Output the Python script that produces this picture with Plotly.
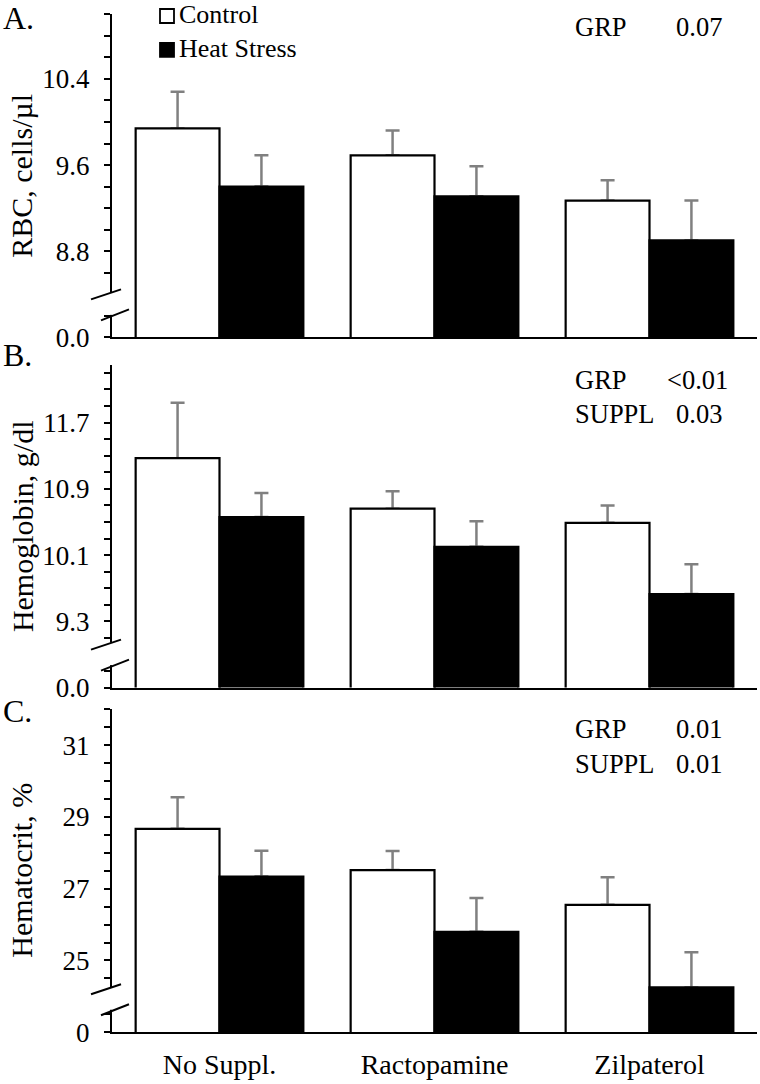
import numpy as np
import plotly.graph_objects as go

# ---------------- data ----------------
categories = ["No Suppl.", "Ractopamine", "Zilpaterol"]
series_names = ["Control", "Heat Stress"]

rbc_control = [9.94, 9.69, 9.27]
rbc_control_se = [0.34, 0.23, 0.19]
rbc_heat = [9.40, 9.31, 8.90]
rbc_heat_se = [0.29, 0.28, 0.37]

hgb_control = [11.27, 10.66, 10.49]
hgb_control_se = [0.67, 0.21, 0.21]
hgb_heat = [10.56, 10.20, 9.63]
hgb_heat_se = [0.29, 0.31, 0.36]

hct_control = [28.67, 27.52, 26.55]
hct_control_se = [0.88, 0.53, 0.77]
hct_heat = [27.34, 25.80, 24.25]
hct_heat_se = [0.72, 0.94, 0.98]

rbc_tick_vals = [8.0, 8.8, 9.6, 10.4]
rbc_tick_labels = ["0.0", "8.8", "9.6", "10.4"]
hgb_tick_vals = [8.5, 9.3, 10.1, 10.9, 11.7]
hgb_tick_labels = ["0.0", "9.3", "10.1", "10.9", "11.7"]
hct_tick_vals = [23, 25, 27, 29, 31]
hct_tick_labels = ["0", "25", "27", "29", "31"]

panel_letters = ["A.", "B.", "C."]
axis_titles = ["RBC, cells/µl", "Hemoglobin, g/dl", "Hematocrit, %"]
stats_a = [("GRP", "0.07")]
stats_b = [("GRP", "<0.01"), ("SUPPL", "0.03")]
stats_c = [("GRP", "0.01"), ("SUPPL", "0.01")]

# ---------------- layout helpers ----------------
W, H = 760, 1084
KY = 1.013          # small vertical correction for the page photograph
FONT = "Liberation Serif"


def px(x):
    return x / W


def py(y):
    return 1 - (y * KY) / H


AX_X = 112
X_RIGHT = 757
ERR_COLOR = "#808080"

panels = [
    dict(ctrl=rbc_control, ctrl_se=rbc_control_se, heat=rbc_heat, heat_se=rbc_heat_se,
         rng=(8.0, 11.0), minor=0.2, tv=rbc_tick_vals, tl=rbc_tick_labels,
         top=14.3, bottom=337.7, stats=stats_a, stat_y=[27],
         letter_y=18),
    dict(ctrl=hgb_control, ctrl_se=hgb_control_se, heat=hgb_heat, heat_se=hgb_heat_se,
         rng=(8.5, 12.4), minor=0.2, tv=hgb_tick_vals, tl=hgb_tick_labels,
         top=365, bottom=688.3, stats=stats_b, stat_y=[380, 414.5],
         letter_y=355),
    dict(ctrl=hct_control, ctrl_se=hct_control_se, heat=hct_heat, heat_se=hct_heat_se,
         rng=(23, 32), minor=0.5, tv=hct_tick_vals, tl=hct_tick_labels,
         top=710, bottom=1033.3, stats=stats_c, stat_y=[730, 764.5],
         letter_y=712),
]

fig = go.Figure()
shapes = []
annotations = []
layout_axes = {}

for i, p in enumerate(panels):
    n = i + 1
    xa = "x" if n == 1 else f"x{n}"
    ya = "y" if n == 1 else f"y{n}"
    xkey = "xaxis" if n == 1 else f"xaxis{n}"
    ykey = "yaxis" if n == 1 else f"yaxis{n}"

    # error bars first (on invisible bars) so the visible bars hide the lower cap
    for vals, se, grp in ((p["ctrl"], p["ctrl_se"], "c"), (p["heat"], p["heat_se"], "h")):
        fig.add_trace(go.Bar(
            x=categories, y=vals, offsetgroup=grp,
            marker=dict(color="rgba(0,0,0,0)", line=dict(width=0)),
            error_y=dict(type="data", symmetric=False, array=se,
                         arrayminus=[0] * len(categories), color=ERR_COLOR,
                         thickness=2.5, width=7),
            xaxis=xa, yaxis=ya, showlegend=False, hoverinfo="skip",
        ))
    fig.add_trace(go.Bar(
        x=categories, y=p["ctrl"], name=series_names[0], offsetgroup="c",
        marker=dict(color="white", line=dict(color="black", width=2.2)),
        xaxis=xa, yaxis=ya, showlegend=False,
    ))
    fig.add_trace(go.Bar(
        x=categories, y=p["heat"], name=series_names[1], offsetgroup="h",
        marker=dict(color="black", line=dict(color="black", width=2.2)),
        xaxis=xa, yaxis=ya, showlegend=False,
    ))

    lo, hi = p["rng"]
    step = p["minor"]
    nsteps = int(np.floor((hi - lo) / step + 1e-9))
    all_ticks = [round(lo + k * step, 6) for k in range(nsteps + 1)]
    label_map = {round(v, 6): t for v, t in zip(p["tv"], p["tl"])}
    ticktext = [label_map.get(v, "") for v in all_ticks]

    layout_axes[ykey] = dict(
        domain=[py(p["bottom"]), py(p["top"])], range=[lo, hi], anchor=xa,
        tickmode="array", tickvals=all_ticks, ticktext=ticktext,
        ticks="outside", ticklen=6, tickwidth=2, tickcolor="black",
        showline=True, linecolor="black", linewidth=2,
        showgrid=False, zeroline=False,
        tickfont=dict(family=FONT, size=27, color="black"),
        ticklabelstandoff=9,
    )
    layout_axes[xkey] = dict(
        domain=[px(AX_X), px(X_RIGHT)], anchor=ya, type="category",
        showline=True, linecolor="black", linewidth=2, ticks="",
        showgrid=False, zeroline=False,
        showticklabels=(n == 3),
        tickfont=dict(family=FONT, size=28, color="black"),
        ticklabelstandoff=6,
    )

    b = p["bottom"]
    # axis break: white gap + two slashes
    shapes.append(dict(type="rect", xref="paper", yref="paper",
                       x0=px(AX_X - 10), x1=px(AX_X + 5),
                       y0=py(b - 22.5), y1=py(b - 45),
                       fillcolor="white", line=dict(width=0), layer="above"))
    shapes.append(dict(type="line", xref="paper", yref="paper",
                       x0=px(AX_X - 21), y0=py(b - 38), x1=px(AX_X + 9), y1=py(b - 48),
                       line=dict(color="black", width=2), layer="above"))
    shapes.append(dict(type="line", xref="paper", yref="paper",
                       x0=px(AX_X - 11), y0=py(b - 17), x1=px(AX_X + 17), y1=py(b - 28),
                       line=dict(color="black", width=2), layer="above"))

    annotations.append(dict(text=panel_letters[i], xref="paper", yref="paper",
                            x=px(1), y=py(p["letter_y"]), xanchor="left", yanchor="middle",
                            showarrow=False, font=dict(family=FONT, size=32, color="black")))
    annotations.append(dict(text=axis_titles[i], xref="paper", yref="paper",
                            x=px(22), y=py((p["top"] + p["bottom"]) / 2),
                            xanchor="center", yanchor="middle", textangle=-90,
                            showarrow=False, font=dict(family=FONT, size=30, color="black")))
    for (lab, val), sy in zip(p["stats"], p["stat_y"]):
        annotations.append(dict(text=lab, xref="paper", yref="paper",
                                x=px(573), y=py(sy), xanchor="left", yanchor="middle",
                                showarrow=False, font=dict(family=FONT, size=26.5, color="black")))
        vx = 665 if val.startswith("<") else 674
        annotations.append(dict(text=val, xref="paper", yref="paper",
                                x=px(vx), y=py(sy), xanchor="left", yanchor="middle",
                                showarrow=False, font=dict(family=FONT, size=26.5, color="black")))

# legend (drawn by hand: swatch + label)
legend_rows = [(16, "white"), (50, "black")]
for (cy, fill), name in zip(legend_rows, series_names):
    shapes.append(dict(type="rect", xref="paper", yref="paper",
                       x0=px(160), x1=px(174), y0=py(cy - 7), y1=py(cy + 7),
                       fillcolor=fill, line=dict(color="black", width=1.8), layer="above"))
    annotations.append(dict(text=name, xref="paper", yref="paper",
                            x=px(177), y=py(cy - 1), xanchor="left", yanchor="middle",
                            showarrow=False, font=dict(family=FONT, size=26, color="black")))

fig.update_layout(
    width=W, height=H,
    margin=dict(l=0, r=0, t=0, b=0),
    paper_bgcolor="white", plot_bgcolor="white",
    font=dict(family=FONT, size=26, color="black"),
    barmode="group", bargap=0.22, bargroupgap=0,
    showlegend=False,
    shapes=shapes, annotations=annotations,
    **layout_axes,
)

fig.write_html(
    "out.html",
    config={"displayModeBar": False},
    post_script=("document.body.style.margin='0px';"
                 "document.body.style.padding='0px';"
                 "document.body.style.overflow='hidden';"
                 "document.documentElement.style.overflow='hidden';"),
)
